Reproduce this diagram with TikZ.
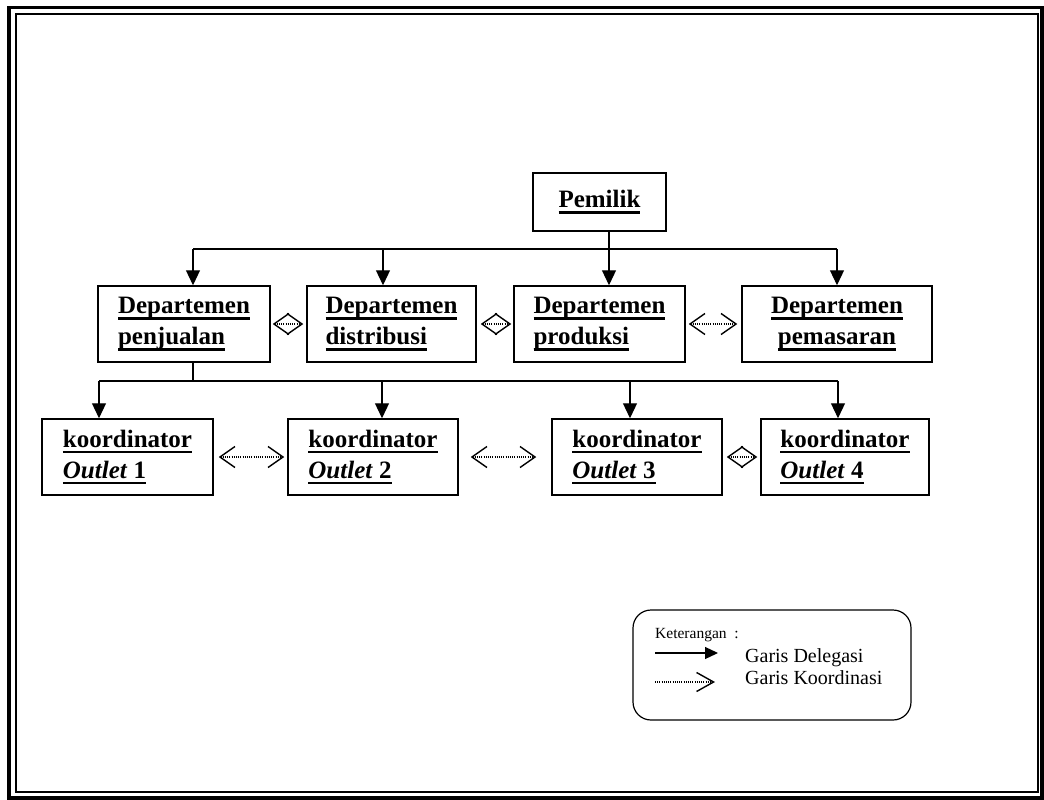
\documentclass[tikz,border=0pt]{standalone}
\usepackage{fontspec}
\setmainfont{Liberation Serif}
\usetikzlibrary{arrows.meta}
\newcommand{\ulbox}[1]{\setbox0\hbox{#1}\rlap{\rule[-6pt]{\wd0}{2.5pt}}\box0}

\begin{document}
\begin{tikzpicture}[x=1pt, y=-1pt, box node/.style={draw, line width=1.5pt, minimum height=76pt, inner sep=0pt, align=left, font=\fontsize{25}{31}\selectfont\bfseries}, deleg/.style={line width=1.2pt, -{Triangle[length=15pt,width=14pt]}}, bus/.style={line width=1.2pt}, koor/.style={line width=1.4pt, dash pattern=on 1pt off 1.2pt, {Straight Barb[length=15pt,width=21pt]}-{Straight Barb[length=15pt,width=21pt]}}]
\useasboundingbox (0,0) rectangle (1044,800);
%double frame
\draw[line width=3.5pt] (9,7.5) rectangle (1042,798);
\draw[line width=2pt] (16,14.5) rectangle (1038,792);

\node[box node, minimum width=133pt, minimum height=58pt, align=center](pemilik) at (599.5,202){\ulbox{Pemilik}};

\node[box node, minimum width=172pt](penjualan) at (184,324){\ulbox{Departemen}\\\ulbox{penjualan}};
\node[box node, minimum width=169pt](distribusi) at (391.5,324){\ulbox{Departemen}\\\ulbox{distribusi}};
\node[box node, minimum width=171pt](produksi) at (599.5,324){\ulbox{Departemen}\\\ulbox{produksi}};
\node[box node, minimum width=190pt, align=center](pemasaran) at (837,324){\ulbox{Departemen}\\\ulbox{pemasaran}};

\node[box node, minimum width=171pt](outlet1) at (127.5,457){\ulbox{koordinator}\\\ulbox{\textit{Outlet} 1}};
\node[box node, minimum width=170pt](outlet2) at (373,457){\ulbox{koordinator}\\\ulbox{\textit{Outlet} 2}};
\node[box node, minimum width=170pt](outlet3) at (637,457){\ulbox{koordinator}\\\ulbox{\textit{Outlet} 3}};
\node[box node, minimum width=168pt](outlet4) at (845,457){\ulbox{koordinator}\\\ulbox{\textit{Outlet} 4}};

%delegation lines
\coordinate (t1) at (193,249);
\coordinate (t2) at (383,249);
\coordinate (t3) at (609,249);
\coordinate (t4) at (837,249);
\draw[bus] (t1) -- (t4);
\draw[deleg] (pemilik.south -| t3) -- (t3 |- produksi.north);
\foreach \t/\n in {t1/penjualan, t2/distribusi, t4/pemasaran}
    \draw[deleg] (\t) -- (\t |- \n.north);

\coordinate (k1) at (99,381);
\coordinate (k2) at (382,381);
\coordinate (k3) at (630,381);
\coordinate (k4) at (838,381);
\draw[bus] (penjualan.south -| t1) -- (t1 |- k1);
\draw[bus] (k1) -- (k4);
\foreach \k/\n in {k1/outlet1, k2/outlet2, k3/outlet3, k4/outlet4}
    \draw[deleg] (\k) -- (\k |- \n.north);

%coordination lines
\draw[koor, shorten <=2pt, shorten >=3pt] (penjualan.east) -- (distribusi.west);
\draw[koor, shorten <=4pt, shorten >=2pt] (distribusi.east) -- (produksi.west);
\draw[koor, shorten <=3pt, shorten >=4pt] (produksi.east) -- (pemasaran.west);
\draw[koor, shorten <=5pt, shorten >=3pt] (outlet1.east) -- (outlet2.west);
\draw[koor, shorten <=12pt, shorten >=15pt] (outlet2.east) -- (outlet3.west);
\draw[koor, shorten <=4pt, shorten >=3pt] (outlet3.east) -- (outlet4.west);

%legend
\node[draw, line width=1.2pt, rounded corners=18pt, minimum width=278pt, minimum height=110pt](legend) at (772,665){};
\node[anchor=base west, inner sep=0pt, font=\fontsize{15.5}{18}\selectfont](ket) at (655,638){Keterangan\ \ :};
\coordinate (d1) at (655,653);
\coordinate (d2) at (718,653);
\coordinate (c1) at (655,682);
\coordinate (c2) at (715,682);
\draw[line width=1.2pt, -{Triangle[length=13pt,width=12pt]}] (d1) -- (d2);
\draw[line width=1.4pt, dash pattern=on 1pt off 1.2pt, -{Straight Barb[length=17pt,width=19pt]}] (c1) -- (c2);
\node[anchor=base west, inner sep=0pt, font=\fontsize{20}{24}\selectfont](gd) at (745,662){Garis Delegasi};
\node[anchor=base west, inner sep=0pt, font=\fontsize{20}{24}\selectfont](gk) at (745,684){Garis Koordinasi};
\end{tikzpicture}
\end{document}
